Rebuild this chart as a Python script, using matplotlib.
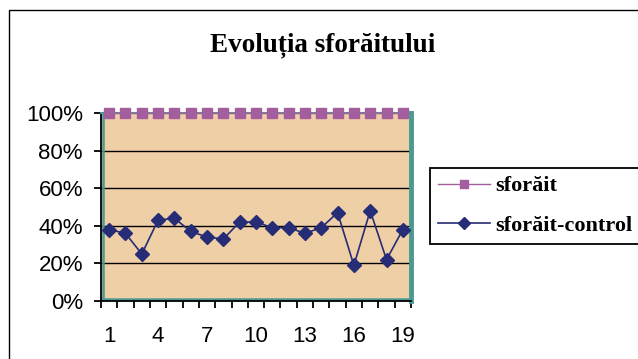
import matplotlib.pyplot as plt
from matplotlib.patches import Rectangle
from matplotlib.lines import Line2D
from matplotlib.transforms import ScaledTranslation
from matplotlib.ticker import FixedLocator, PercentFormatter

# chart data
days = list(range(1, 20))
sforait = [100] * 19
sforait_control = [38, 36, 25, 43, 44, 37, 34, 33, 42, 42, 39, 39, 36, 39, 47, 19, 48, 22, 38]
xtick_labels = [1, 4, 7, 10, 13, 16, 19]

MAGENTA = '#A35E9E'
NAVY = '#262C76'
TAN = '#EFCFA5'
TEAL = '#4C9893'

fig = plt.figure(figsize=(6.38, 3.59), dpi=100)

# outer chart frame (runs off the right and bottom edges)
fig.patches.append(Rectangle((9 / 638, -0.1), 1.0, 1 - 10 / 359 + 0.1,
                             transform=fig.transFigure, fill=False,
                             edgecolor='black', linewidth=1.0))

ax = fig.add_axes([101 / 638, 58 / 359, 310 / 638, 188 / 359])
ax.set_facecolor(TAN)

for y in [20, 40, 60, 80]:
    ax.axhline(y, color='black', linewidth=1.0, zorder=1)

# teal wall edges just inside the left and bottom axis lines
up = ax.transAxes + ScaledTranslation(0, 1.6 / 72, fig.dpi_scale_trans)
right = ax.transAxes + ScaledTranslation(1.6 / 72, 0, fig.dpi_scale_trans)
ax.add_line(Line2D([0, 1], [0, 0], transform=up, color=TEAL, linewidth=1.8, zorder=2))
ax.add_line(Line2D([0, 0], [0, 1], transform=right, color=TEAL, linewidth=1.8, zorder=2))

ax.plot(days, sforait, color=MAGENTA, marker='s', markersize=7,
        linewidth=1.0, label='sforăit', zorder=4, clip_on=False)
ax.plot(days, sforait_control, color=NAVY, marker='D', markersize=7,
        linewidth=1.2, label='sforăit-control', zorder=3)

ax.set_xlim(0.5, 19.5)
ax.set_ylim(0, 100)

ax.spines['left'].set_color('black')
ax.spines['bottom'].set_color('black')
ax.spines['left'].set_linewidth(1.3)
ax.spines['bottom'].set_linewidth(1.3)
ax.spines['right'].set_color(TEAL)
ax.spines['right'].set_linewidth(3.5)
ax.spines['top'].set_color(TEAL)
ax.spines['top'].set_linewidth(1.5)

ax.set_xticks(xtick_labels)
ax.set_xticklabels([str(v) for v in xtick_labels])
ax.xaxis.set_minor_locator(FixedLocator([i + 0.5 for i in range(0, 20)]))
ax.tick_params(axis='x', which='major', length=0, pad=18, labelsize=16)
ax.tick_params(axis='x', which='minor', length=5, width=1.3, direction='out')

ax.set_yticks([0, 20, 40, 60, 80, 100])
ax.yaxis.set_major_formatter(PercentFormatter(decimals=0))
ax.tick_params(axis='y', length=5, width=1.3, direction='out', pad=8, labelsize=16)
for lab in ax.get_xticklabels() + ax.get_yticklabels():
    lab.set_family('Liberation Sans')

fig.text(323 / 638, 1 - 45 / 359, 'Evoluția sforăitului', ha='center', va='center',
         fontsize=19.5, fontweight='bold', family='Liberation Serif')

leg = fig.legend(loc='upper left', bbox_to_anchor=(430 / 638, 1 - 168 / 359),
                 frameon=True, fancybox=False, edgecolor='black', framealpha=1,
                 handlelength=2.35, handletextpad=0.25, borderpad=0.35,
                 labelspacing=0.85, borderaxespad=0,
                 prop={'family': 'Liberation Serif', 'weight': 'bold', 'size': 16})
leg.get_frame().set_linewidth(1.3)
for h in leg.legend_handles:
    h.set_markersize(6)

fig.savefig('out.png', dpi=100)
